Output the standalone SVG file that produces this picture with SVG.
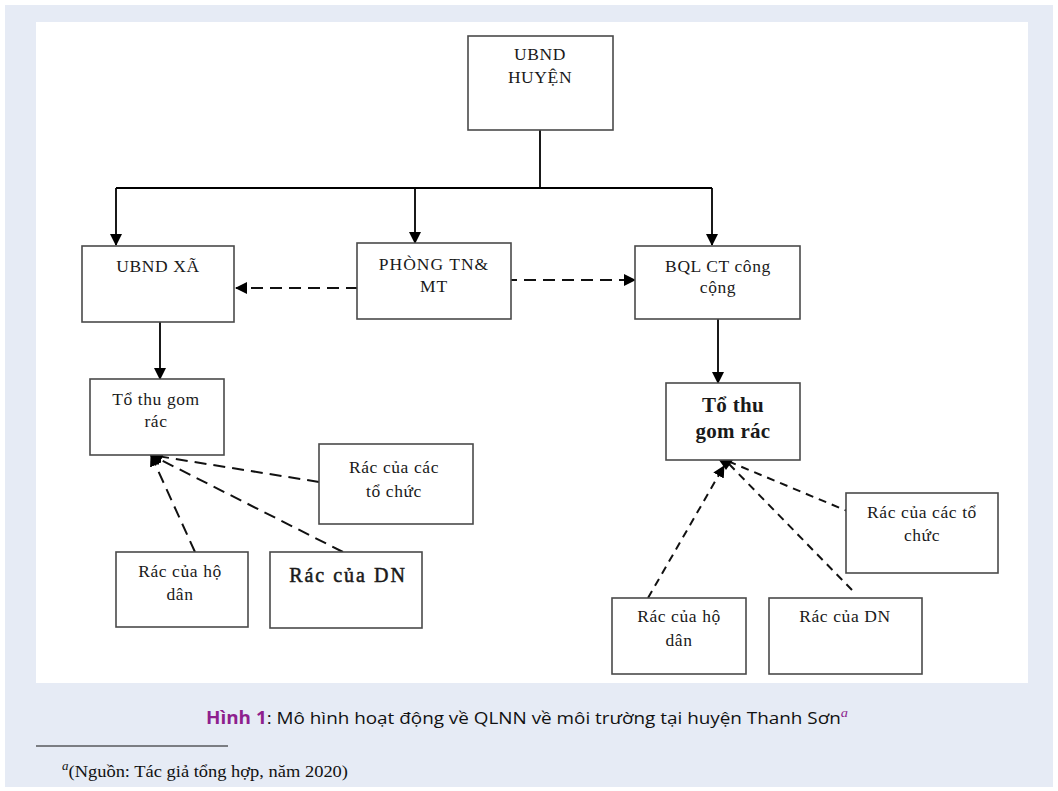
<svg xmlns="http://www.w3.org/2000/svg" width="1058" height="791" viewBox="0 0 1058 791">
<style>
.box{fill:#fff;stroke:#4a4a4a;stroke-width:1.6}
.t{font-family:"Liberation Serif","DejaVu Serif",serif;font-size:17.5px;letter-spacing:0.6px;fill:#1a1a1a;text-anchor:middle}
.solid{stroke:#000;stroke-width:1.8;fill:none}
.dash{stroke:#111;stroke-width:2;fill:none;stroke-dasharray:12 7}
.dash2{stroke:#111;stroke-width:2;fill:none;stroke-dasharray:8 6}
.cap{font-family:"Open Sans","Noto Sans",sans-serif;font-size:17px;fill:#111}
.fn{font-family:"Liberation Serif",serif;font-size:17px;fill:#111}
</style>
<defs>
<marker id="ah" markerWidth="12" markerHeight="12" refX="11" refY="6" orient="auto" markerUnits="userSpaceOnUse">
<path d="M0,0 L12,6 L0,12 Z" fill="#000"/>
</marker>
</defs>
<rect x="5" y="5" width="1048" height="782" fill="#e6ebf5"/>
<rect x="36" y="22" width="992" height="661" fill="#fff"/>

<g id="connectors">
<path class="solid" d="M540,130 V188"/>
<path class="solid" d="M116,188 H712"/>
<path class="solid" d="M116,188 V245" marker-end="url(#ah)"/>
<path class="solid" d="M415,188 V243" marker-end="url(#ah)"/>
<path class="solid" d="M712,188 V245" marker-end="url(#ah)"/>
<path class="dash" d="M358,288 H236" marker-end="url(#ah)"/>
<path class="dash" d="M505,280 H635" marker-end="url(#ah)"/>
<path class="solid" d="M160,322 V379" marker-end="url(#ah)"/>
<path class="solid" d="M718,319 V383" marker-end="url(#ah)"/>
<path class="dash" d="M319,482 L151,455" marker-end="url(#ah)"/>
<path class="dash" d="M343,552 L151,455" marker-end="url(#ah)"/>
<path class="dash" d="M195,552 L151,455" marker-end="url(#ah)"/>
<path class="dash2" d="M852,513 L730,462"/>
<path class="dash2" d="M852,590 L729,464"/>
<polygon points="719,460 733,460 726,470" fill="#000"/>
<path class="dash2" d="M648,598 L724,466" marker-end="url(#ah)"/>
</g>

<g id="ubnd-huyen">
<rect class="box" x="468" y="36" width="145" height="94"/>
<text class="t" x="540" y="60">UBND</text>
<text class="t" x="540" y="83">HUYỆN</text>
</g>
<g id="ubnd-xa">
<rect class="box" x="82" y="246" width="152" height="76"/>
<text class="t" x="158" y="272">UBND XÃ</text>
</g>
<g id="phong-tnmt">
<rect class="box" x="357" y="243" width="154" height="76"/>
<text class="t" x="434" y="270" style="letter-spacing:1px">PHÒNG TN&amp;</text>
<text class="t" x="434" y="292" style="letter-spacing:1px">MT</text>
</g>
<g id="bql">
<rect class="box" x="635" y="246" width="165" height="73"/>
<text class="t" x="718" y="272">BQL CT công</text>
<text class="t" x="718" y="293">cộng</text>
</g>
<g id="to-thu-gom-trai">
<rect class="box" x="90" y="379" width="134" height="76"/>
<text class="t" x="156" y="405">Tổ thu gom</text>
<text class="t" x="156" y="427">rác</text>
</g>
<g id="rac-to-chuc-trai">
<rect class="box" x="319" y="444" width="154" height="80"/>
<text class="t" x="394" y="473">Rác của các</text>
<text class="t" x="394" y="497">tổ chức</text>
</g>
<g id="rac-ho-dan-trai">
<rect class="box" x="116" y="552" width="132" height="75"/>
<text class="t" x="180" y="577">Rác của hộ</text>
<text class="t" x="180" y="600">dân</text>
</g>
<g id="rac-dn-trai">
<rect class="box" x="270" y="552" width="152" height="76"/>
<text class="t" x="348" y="582" style="font-size:20px;letter-spacing:2px;stroke:#1a1a1a;stroke-width:0.5">Rác của DN</text>
</g>
<g id="to-thu-gom-phai">
<rect class="box" x="666" y="383" width="134" height="77"/>
<text class="t" x="733" y="412" style="font-size:21px;font-weight:bold;letter-spacing:0.3px">Tổ thu</text>
<text class="t" x="733" y="438" style="font-size:21px;font-weight:bold;letter-spacing:0.3px">gom rác</text>
</g>
<g id="rac-to-chuc-phai">
<rect class="box" x="846" y="493" width="152" height="80"/>
<text class="t" x="922" y="518">Rác của các tổ</text>
<text class="t" x="922" y="541">chức</text>
</g>
<g id="rac-ho-dan-phai">
<rect class="box" x="612" y="598" width="134" height="76"/>
<text class="t" x="679" y="622">Rác của hộ</text>
<text class="t" x="679" y="646">dân</text>
</g>
<g id="rac-dn-phai">
<rect class="box" x="769" y="598" width="153" height="76"/>
<text class="t" x="845" y="622">Rác của DN</text>
</g>

<g id="caption">
<text class="cap" x="206" y="724" textLength="642" lengthAdjust="spacingAndGlyphs"><tspan fill="#8e1f8e" font-weight="bold">Hình 1</tspan>: Mô hình hoạt động về QLNN về môi trường tại huyện Thanh Sơn<tspan fill="#8e1f8e" font-style="italic" font-family="Liberation Serif, serif" font-size="13" dy="-7">a</tspan></text>
</g>
<g id="footnote">
<line x1="36" y1="746" x2="228" y2="746" stroke="#111" stroke-width="1"/>
<text class="fn" x="62" y="777" textLength="286" lengthAdjust="spacingAndGlyphs"><tspan font-style="italic" font-size="12" dy="-7">a</tspan><tspan dy="7">(Nguồn: Tác giả tổng hợp, năm 2020)</tspan></text>
</g>
</svg>
